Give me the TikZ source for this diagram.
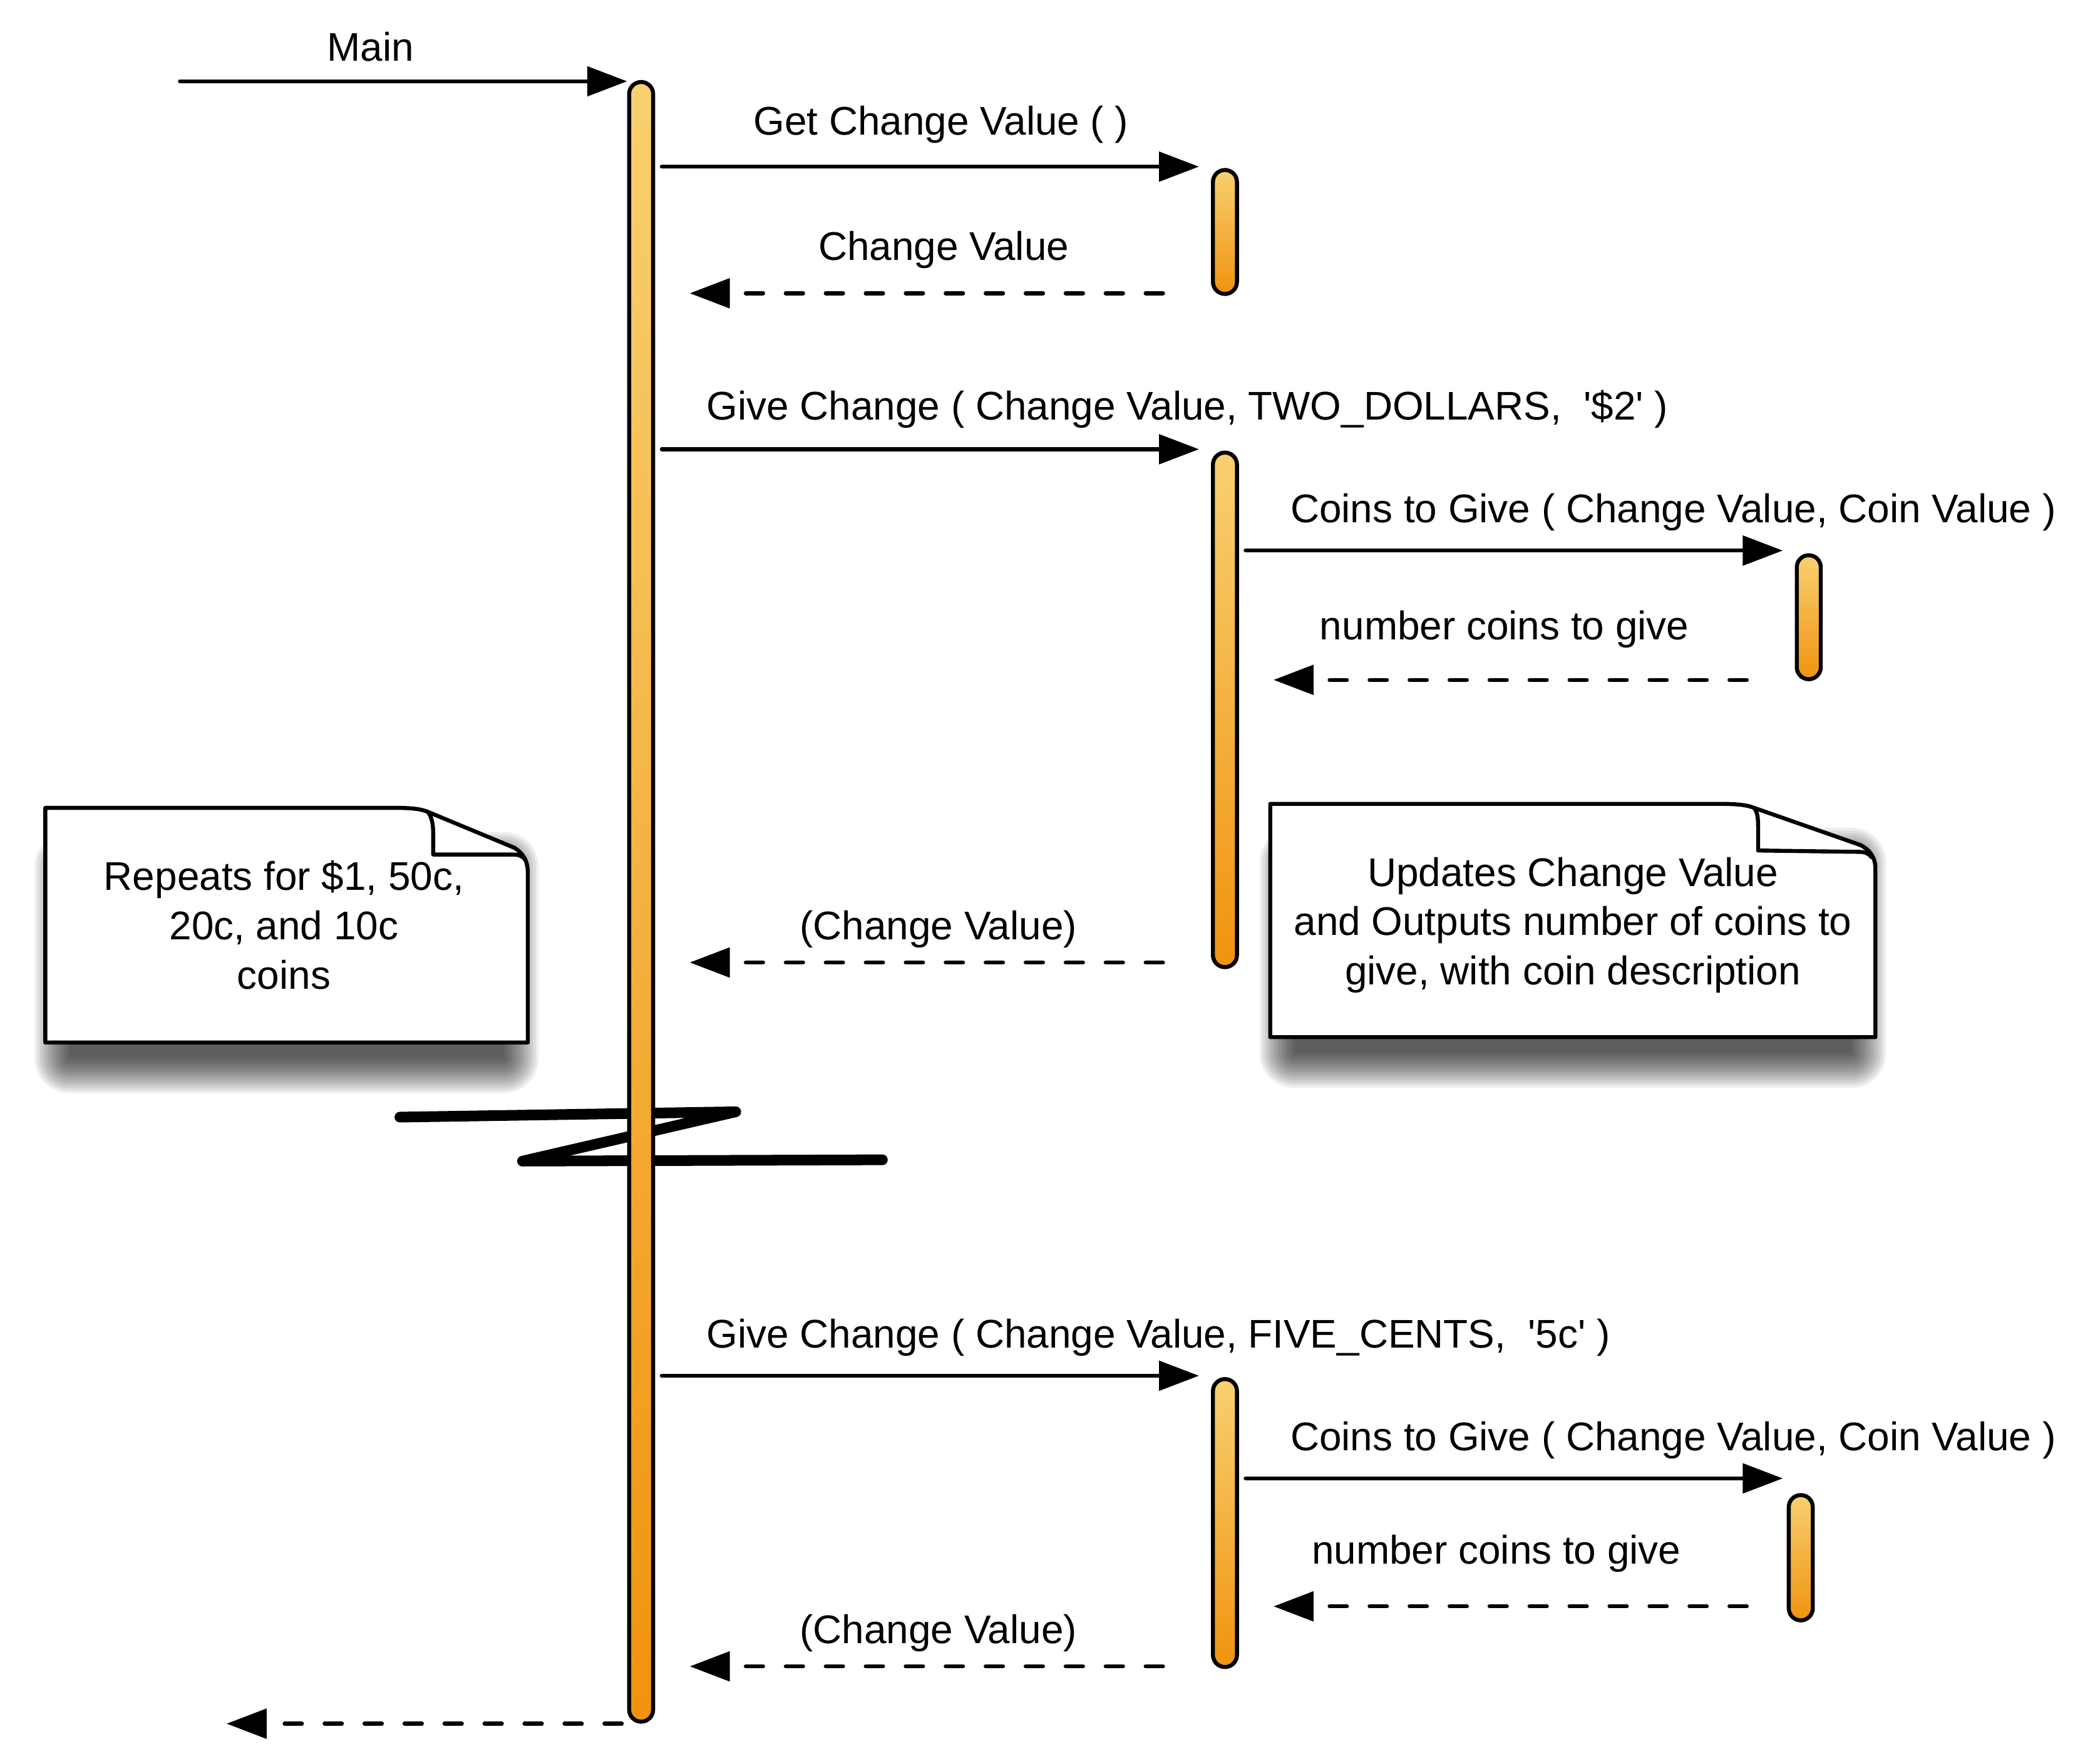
\documentclass[tikz,border=0pt]{standalone}
\usepackage{fontspec}
\setmainfont{Liberation Sans}
\usetikzlibrary{arrows.meta}
\definecolor{bartop}{HTML}{F8D070}
\definecolor{barbot}{HTML}{F0930F}
\begin{document}
\begin{tikzpicture}[x=1pt,y=-1pt,
  bar/.style={draw=black, line width=3pt, rounded corners=9pt, top color=bartop, bottom color=barbot, minimum width=18pt, inner sep=0pt},
  msg/.style={line width=3pt, line cap=round, -{Triangle[length=30pt,width=22pt]}},
  ret/.style={msg, dash pattern=on 13pt off 17pt},
  lbl/.style={anchor=base, inner sep=0pt, font=\fontsize{30}{37}\selectfont},
  notetext/.style={inner sep=0pt, align=center, font=\fontsize{30}{37}\selectfont},
  note/.style={draw=black, line width=3pt, fill=white, line join=round},
  fold/.style={draw=black, line width=3pt, line join=round, line cap=round},
  notebreak/.style={draw=black, line width=8pt, line cap=round, line join=round},
  shadowlayer/.style={fill=black, fill opacity=0.065}
]
\fill[white] (0,0) rectangle (1568,1323);
\useasboundingbox (0,0) rectangle (1568,1323);

% soft shadows of the notes
\foreach \r in {0,2,...,26}{
  \fill[shadowlayer, rounded corners=\r pt] (52-\r,650-\r) rectangle (378+\r,794+\r);
  \fill[shadowlayer, rounded corners=\r pt] (971-\r,647-\r) rectangle (1389+\r,790+\r);
}

% break symbol (behind the main bar)
\draw[notebreak] (300,838) -- (552,834) -- (392,871) -- (662,870);

% activation bars
\node[bar, minimum height=1230pt] (m)  at (481,676.5) {};
\node[bar, minimum height=93pt]   (b1) at (919,174) {};
\node[bar, minimum height=386pt]  (b2) at (919,532.5) {};
\node[bar, minimum height=93pt]   (b3) at (1357,463) {};
\node[bar, minimum height=216pt]  (b4) at (919,1142.5) {};
\node[bar, minimum height=94pt]   (b5) at (1351,1168.5) {};

% entry and exit
\coordinate (entry) at (135,61);
\coordinate (exit) at (170,1293);
\draw[msg] (entry) -- (m.west |- entry);
\node[lbl] (lmain) at (278,46) {Main};

% messages
\draw[msg, shorten <=5pt, shorten >=9pt] (m.east |- 0,125) -- (b1.west |- 0,125);
\node[lbl] (l1) at (706,101) {Get Change Value ( )};
\draw[ret, shorten <=36pt, shorten >=26pt] (b1.west |- 0,220) -- (m.east |- 0,220);
\node[lbl] (l2) at (708,195) {Change Value};

\draw[msg, shorten <=5pt, shorten >=9pt] (m.east |- 0,337) -- (b2.west |- 0,337);
\node[lbl, anchor=base west] (l3) at (530,315) {Give Change ( Change Value, TWO\_DOLLARS, \ \textquotesingle\$2\textquotesingle\ )};
\draw[msg, shorten <=5pt, shorten >=9pt] (b2.east |- 0,413) -- (b3.west |- 0,413);
\node[lbl, anchor=base west] (l4) at (968,392) {Coins to Give ( Change Value, Coin Value )};
\draw[ret, shorten <=36pt, shorten >=26pt] (b3.west |- 0,510) -- (b2.east |- 0,510);
\node[lbl, anchor=base west] (l5) at (990,480) {number coins to give};
\draw[ret, shorten <=36pt, shorten >=26pt] (b2.west |- 0,722) -- (m.east |- 0,722);
\node[lbl] (l6) at (704,705) {(Change Value)};

\draw[msg, shorten <=5pt, shorten >=9pt] (m.east |- 0,1032) -- (b4.west |- 0,1032);
\node[lbl, anchor=base west] (l7) at (530,1011) {Give Change ( Change Value, FIVE\_CENTS, \ \textquotesingle5c\textquotesingle\ )};
\draw[msg, shorten <=5pt, shorten >=3pt] (b4.east |- 0,1109) -- (b5.west |- 0,1109);
\node[lbl, anchor=base west] (l8) at (968,1088) {Coins to Give ( Change Value, Coin Value )};
\draw[ret, shorten <=30pt, shorten >=26pt] (b5.west |- 0,1205) -- (b4.east |- 0,1205);
\node[lbl, anchor=base west] (l9) at (984,1173) {number coins to give};
\draw[ret, shorten <=36pt, shorten >=26pt] (b4.west |- 0,1250) -- (m.east |- 0,1250);
\node[lbl] (l10) at (704,1233) {(Change Value)};

\draw[ret, shorten <=4pt] (m.south west) -- (exit);

% left note
\path[note] (34,782) -- (34,606) -- (296,606) .. controls (310,606) and (316,607) .. (321,609) -- (386,636) .. controls (392,640) and (396,645) .. (396,655) -- (396,782) -- cycle;
\draw[fold] (321,609) .. controls (324,613) and (325,618) .. (325,626) -- (325,641) -- (384,641) .. controls (389,641) and (392,642) .. (394,645);
\node[notetext] (n1) at (213,694) {Repeats for \$1, 50c,\\20c, and 10c\\coins};

% right note
\path[note] (953,778) -- (953,603) -- (1290,603) .. controls (1304,603) and (1311,604) .. (1316,606) -- (1396,634) .. controls (1403,638) and (1407,643) .. (1407,652) -- (1407,778) -- cycle;
\draw[fold] (1316,606) .. controls (1319,610) and (1319,615) .. (1319,622) -- (1319,638) -- (1394,639) .. controls (1399,639) and (1402,640) .. (1404,643);
\node[notetext] (n2) at (1180,694) {Updates Change Value\\and Outputs number of coins to\\give, with coin description};
\end{tikzpicture}
\end{document}
